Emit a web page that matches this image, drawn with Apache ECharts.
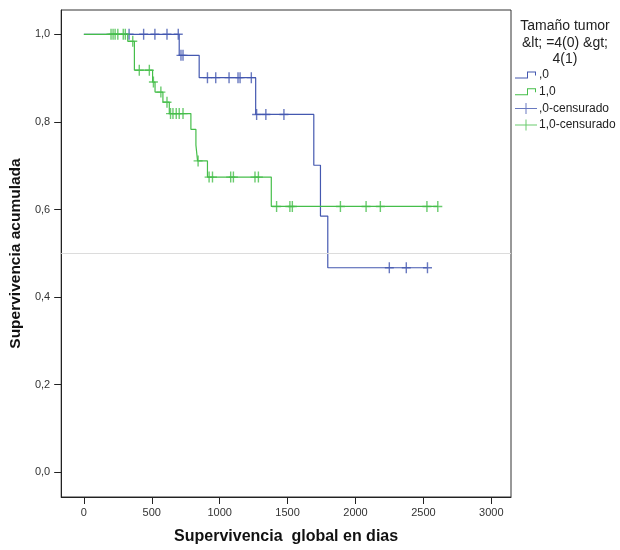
<!DOCTYPE html>
<html>
<head>
<meta charset="utf-8">
<script src="https://cdn.jsdelivr.net/npm/echarts@6/dist/echarts.min.js"></script>
<style>html,body{margin:0;padding:0;background:#fff}#c{width:620px;height:550px}</style>
</head>
<body>
<div id="c"></div>
<script>
// Kaplan-Meier steps (time in days, cumulative survival)
var blueTimes = [0, 702, 849, 1265, 1693, 1742, 1796, 2530];
var blueSurv  = [1.0, 0.952, 0.901, 0.817, 0.701, 0.585, 0.467, 0.467];
var greenTimes = [0, 323, 372, 506, 524, 582, 629, 788, 825, 837, 910, 1380, 2606];
var greenSurv  = [1.0, 0.984, 0.918, 0.891, 0.868, 0.845, 0.819, 0.783, 0.747, 0.711, 0.674, 0.607, 0.607];
// censored observations
var blueCensTimes = [333, 440, 523, 612, 695, 715, 730, 910, 971, 1069, 1135, 1150, 1233, 1272, 1340, 1473, 2249, 2374, 2530];
var blueCensSurv  = [1, 1, 1, 1, 1, 0.952, 0.952, 0.901, 0.901, 0.901, 0.901, 0.901, 0.901, 0.817, 0.817, 0.817, 0.467, 0.467, 0.467];
var greenCensTimes = [200, 215, 230, 250, 290, 305, 360, 408, 482, 512, 567, 612, 638, 656, 680, 702, 730, 841, 922, 947, 1081, 1101, 1260, 1285, 1419, 1517, 1535, 1889, 2078, 2183, 2526, 2606];
var greenCensSurv  = [1, 1, 1, 1, 1, 1, 0.984, 0.918, 0.918, 0.891, 0.868, 0.845, 0.819, 0.819, 0.819, 0.819, 0.819, 0.711, 0.674, 0.674, 0.674, 0.674, 0.674, 0.674, 0.607, 0.607, 0.607, 0.607, 0.607, 0.607, 0.607, 0.607];
var xTicks = [0, 500, 1000, 1500, 2000, 2500, 3000];
var yTicks = [0, 0.2, 0.4, 0.6, 0.8, 1.0];
var seriesNames = [',0', '1,0', ',0-censurado', '1,0-censurado'];
var legendTitle = 'Tamaño tumor\n&lt; =4(0) &gt;\n4(1)';
var xTitle = 'Supervivencia  global en dias';
var yTitle = 'Supervivencia acumulada';
var refLine = 0.5;

function zip(a, b) { return a.map(function (v, i) { return [v, b[i]]; }); }

var BLUE = '#4458b0', GREEN = '#45be4a';
var FONT = "'Liberation Sans', Arial, sans-serif";
var plusSym = 'path://M3.8,0 L5.2,0 L5.2,4.8 L9,4.8 L9,6.2 L5.2,6.2 L5.2,11 L3.8,11 L3.8,6.2 L0,6.2 L0,4.8 L3.8,4.8 Z';
var stepIcon = 'path://M0,0 M22,11 M0,8 L12,8 L12,2 L21,2 L21,6 L20,6 L20,3 L13,3 L13,9 L0,9 Z';
var plusIcon = 'path://M10.5,0 L11.5,0 L11.5,5 L22,5 L22,6 L11.5,6 L11.5,11 L10.5,11 L10.5,6 L0,6 L0,5 L10.5,5 Z';

var chart = echarts.init(document.getElementById('c'), null, {renderer: 'canvas'});
chart.setOption({
  animation: false,
  backgroundColor: '#fff',
  textStyle: {fontFamily: FONT},
  grid: {left: 60, top: 10, width: 451, height: 487, show: true, borderColor: '#333', borderWidth: 1, containLabel: false},
  graphic: [{
    type: 'text', x: 565, y: 18,
    style: {text: legendTitle, textAlign: 'center', fontFamily: FONT, fontSize: 14, lineHeight: 16.5, fill: '#222'}
  }],
  legend: {
    orient: 'vertical', left: 515, top: 69, padding: 0,
    itemWidth: 22, itemHeight: 11, itemGap: 4.7,
    textStyle: {fontFamily: FONT, fontSize: 12, color: '#222', padding: [0, 0, 0, -3]},
    data: [
      {name: seriesNames[0], icon: stepIcon, itemStyle: {color: BLUE}},
      {name: seriesNames[1], icon: stepIcon, itemStyle: {color: GREEN}},
      {name: seriesNames[2], icon: plusIcon, itemStyle: {color: BLUE}},
      {name: seriesNames[3], icon: plusIcon, itemStyle: {color: GREEN}}
    ]
  },
  xAxis: {
    type: 'value', min: -167, max: 3145,
    name: xTitle, nameLocation: 'middle', nameGap: 32,
    nameTextStyle: {fontFamily: FONT, fontSize: 16, fontWeight: 'bold', color: '#111'},
    axisLine: {show: true, onZero: false, lineStyle: {color: '#222', width: 1}},
    axisTick: {show: true, length: 7, customValues: xTicks, lineStyle: {color: '#222'}},
    axisLabel: {customValues: xTicks, margin: 10, fontFamily: FONT, fontSize: 11, color: '#333',
      formatter: function (v) { return String(Math.round(v)); }},
    splitLine: {show: false}
  },
  yAxis: {
    type: 'value', min: -0.0564, max: 1.0555,
    name: yTitle, nameLocation: 'middle', nameGap: 33,
    nameTextStyle: {fontFamily: FONT, fontSize: 15.5, fontWeight: 'bold', color: '#111'},
    axisLine: {show: true, onZero: false, lineStyle: {color: '#222', width: 1}},
    axisTick: {show: true, length: 7, customValues: yTicks, lineStyle: {color: '#222'}},
    axisLabel: {customValues: yTicks, margin: 11, fontFamily: FONT, fontSize: 11, color: '#333',
      formatter: function (v) { return v.toFixed(1).replace('.', ','); }},
    splitLine: {show: false}
  },
  series: [
    {name: seriesNames[0], type: 'line', step: 'end', showSymbol: false, symbol: 'none',
     data: zip(blueTimes, blueSurv), lineStyle: {color: BLUE, width: 1.2}, itemStyle: {color: BLUE}, z: 3,
     markLine: {silent: true, symbol: 'none', label: {show: false},
       lineStyle: {color: '#dcdcdc', type: 'solid', width: 1}, data: [{yAxis: refLine}]}},
    {name: seriesNames[1], type: 'line', step: 'end', showSymbol: false, symbol: 'none',
     data: zip(greenTimes, greenSurv), lineStyle: {color: GREEN, width: 1.2}, itemStyle: {color: GREEN}, z: 3},
    {name: seriesNames[2], type: 'scatter', symbol: plusSym, symbolSize: [9, 11],
     data: zip(blueCensTimes, blueCensSurv), itemStyle: {color: BLUE}, z: 4},
    {name: seriesNames[3], type: 'scatter', symbol: plusSym, symbolSize: [9, 11],
     data: zip(greenCensTimes, greenCensSurv), itemStyle: {color: GREEN}, z: 4}
  ]
});
</script>
</body>
</html>
